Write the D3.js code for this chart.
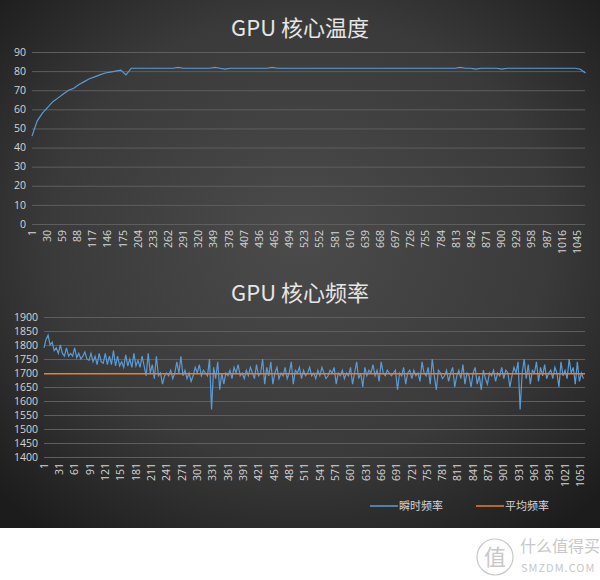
<!DOCTYPE html>
<style>
body { margin: 0; background: #fff; }
text { font-family: "Noto Sans CJK SC", "Open Sans", sans-serif; }
.num { font-family: "Open Sans", "Noto Sans", sans-serif; }
</style>
<svg width="600" height="580"></svg>
<script src="https://d3js.org/d3.v7.min.js"></script>
<script>

// temperature sampled every 10 points (index 1, 11, 21, ...)
var tempStep = 10;
var tempValues = [46,54,58,61,64,66,68,70,71,73,74.5,76,77,78,79,79.5,80,80.5,78,81.5,
  81.5,81.5,81.5,81.5,81.5,81.5,81.5,81.5,82,81.5,81.5,81.5,81.5,81.5,81.5,82,81.5,81,81.5,81.5,
  81.5,81.5,81.5,81.5,81.5,81.5,82,81.5,81.5,81.5,81.5,81.5,81.5,81.5,81.5,81.5,81.5,81.5,81.5,81.5,
  81.5,81.5,81.5,81.5,81.5,81.5,81.5,81.5,81.5,81.5,81.5,81.5,81.5,81.5,81.5,81.5,81.5,81.5,81.5,81.5,
  81.5,81.5,82,81.5,81.5,81,81.5,81.5,81.5,81.5,81,81.5,81.5,81.5,81.5,81.5,81.5,81.5,81.5,81.5,
  81.5,81.5,81.5,81.5,81.5,81,79];
var tempTicks = d3.range(1, 1061, 29);
var tempYTicks = [0,10,20,30,40,50,60,70,80,90];

// frequency sampled every 4 points (index 1, 5, 9, ...)
var freqStep = 4;
var freqValues = [
  1790,1820,1835,1800,1810,1780,1790,1770,1800,1770,
  1760,1790,1760,1770,1760,1790,1755,1770,1750,1760,
  1775,1750,1745,1770,1740,1760,1730,1770,1740,1735,
  1770,1730,1760,1730,1780,1725,1760,1725,1740,1720,
  1765,1725,1750,1720,1770,1725,1745,1720,1760,1725,
  1690,1770,1700,1730,1680,1760,1690,1700,1660,1690,
  1700,1690,1710,1680,1700,1740,1700,1760,1690,1710,
  1680,1700,1670,1690,1720,1700,1730,1690,1710,1700,
  1690,1750,1570,1720,1680,1740,1640,1700,1660,1700,
  1690,1710,1680,1720,1700,1730,1690,1700,1680,1710,
  1690,1720,1700,1680,1730,1690,1700,1750,1660,1720,
  1690,1740,1660,1700,1720,1680,1700,1690,1720,1680,
  1700,1740,1660,1710,1700,1720,1680,1710,1690,1700,
  1720,1690,1700,1680,1710,1690,1720,1700,1680,1690,
  1710,1700,1720,1660,1700,1690,1710,1680,1700,1690,
  1720,1660,1700,1740,1680,1700,1650,1720,1690,1710,
  1700,1730,1690,1710,1670,1740,1700,1690,1710,1700,
  1690,1700,1710,1640,1700,1690,1720,1660,1700,1710,
  1680,1710,1690,1700,1670,1740,1700,1690,1720,1660,
  1750,1690,1640,1710,1700,1680,1690,1710,1670,1700,
  1720,1650,1690,1710,1680,1730,1660,1700,1690,1650,
  1700,1720,1660,1690,1640,1710,1680,1660,1700,1690,
  1710,1670,1700,1690,1720,1680,1710,1700,1650,1690,
  1720,1700,1740,1570,1700,1750,1680,1730,1660,1710,
  1700,1740,1670,1720,1690,1730,1680,1700,1710,1680,
  1720,1700,1650,1740,1690,1710,1680,1750,1700,1720,
  1660,1740,1670,1700,1680];
var freqAvg = 1697;
var freqTicks = d3.range(1, 1061, 30);
var freqYTicks = d3.range(1400, 1901, 50);
var legendNames = ["瞬时频率", "平均频率"];

var svg = d3.select("svg");
var defs = svg.append("defs");
var grad = defs.append("radialGradient").attr("id", "bg")
    .attr("cx", "50%").attr("cy", "45%").attr("r", "70%");
grad.append("stop").attr("offset", "0%").attr("stop-color", "#4b4b4b");
grad.append("stop").attr("offset", "60%").attr("stop-color", "#3a3a3a");
grad.append("stop").attr("offset", "100%").attr("stop-color", "#1c1c1c");
svg.append("rect").attr("width", 600).attr("height", 528).attr("fill", "url(#bg)");

var blue = "#5b9bd5", orange = "#ed7d31", grid = "#5e5e5e", label = "#d4d4d4";

function chart(o) {
  var x = d3.scaleLinear().domain([1, 1060]).range([o.left, o.right]);
  var y = d3.scaleLinear().domain(o.yDomain).range([o.bottom, o.top]);
  var g = svg.append("g");

  g.append("text").attr("x", 300).attr("y", o.titleY).attr("text-anchor", "middle")
      .attr("font-size", 22).attr("fill", "#e6e6e6").text(o.title);

  g.selectAll(".grid").data(o.yTicks).enter().append("line")
      .attr("x1", o.left).attr("x2", o.right)
      .attr("y1", function(d) { return y(d) + 0.5; }).attr("y2", function(d) { return y(d) + 0.5; })
      .attr("stroke", grid).attr("stroke-width", 1);

  g.selectAll(".yl").data(o.yTicks).enter().append("text").attr("class", "num")
      .attr("x", o.left - 6).attr("y", function(d) { return y(d); }).attr("dy", "0.35em")
      .attr("text-anchor", "end").attr("font-size", 10.5).attr("fill", label).text(function(d) { return d; });

  g.selectAll(".xl").data(o.xTicks).enter().append("text").attr("class", "num")
      .attr("transform", function(d) { return "translate(" + x(d) + "," + (o.bottom + 6) + ") rotate(-90)"; })
      .attr("dy", "0.35em").attr("text-anchor", "end").attr("font-size", 10.5).attr("fill", label)
      .text(function(d) { return d; });

  var line = d3.line()
      .x(function(d, i) { return x(1 + i * o.step); })
      .y(function(d) { return y(d); });
  g.append("path").datum(o.values).attr("d", line)
      .attr("fill", "none").attr("stroke", blue).attr("stroke-width", 1.2);
  return {x: x, y: y, g: g};
}

chart({title: "GPU 核心温度", titleY: 36, left: 32, right: 585, top: 52, bottom: 224,
  yDomain: [0, 90], yTicks: tempYTicks, xTicks: tempTicks, values: tempValues, step: tempStep});

var c2 = chart({title: "GPU 核心频率", titleY: 301, left: 44, right: 585, top: 317, bottom: 457,
  yDomain: [1400, 1900], yTicks: freqYTicks, xTicks: freqTicks, values: freqValues, step: freqStep});

c2.g.append("line").attr("x1", c2.x(1)).attr("x2", c2.x(1060))
    .attr("y1", c2.y(freqAvg)).attr("y2", c2.y(freqAvg))
    .attr("stroke", orange).attr("stroke-width", 1.5);

var legend = svg.append("g").selectAll("g").data(legendNames).enter().append("g")
    .attr("transform", function(d, i) { return "translate(" + (370 + i * 106) + ",506)"; });
legend.append("line").attr("x1", 0).attr("x2", 28)
    .attr("stroke", function(d, i) { return i ? orange : blue; }).attr("stroke-width", 1.5);
legend.append("text").attr("x", 29).attr("dy", "0.35em").attr("font-size", 11)
    .attr("fill", label).text(function(d) { return d; });

// watermark
var wm = svg.append("g").attr("fill", "#c8c8c8");
wm.append("circle").attr("cx", 495).attr("cy", 557).attr("r", 18)
    .attr("fill", "none").attr("stroke", "#c8c8c8").attr("stroke-width", 1.2);
wm.append("text").attr("x", 495).attr("y", 557).attr("dy", "0.35em").attr("text-anchor", "middle")
    .attr("font-size", 22).text("值");
wm.append("text").attr("x", 520).attr("y", 552).attr("font-size", 16).text("什么值得买");
wm.append("text").attr("x", 521).attr("y", 572).attr("font-size", 11).attr("letter-spacing", 1).text("SMZDM.COM");

</script>
